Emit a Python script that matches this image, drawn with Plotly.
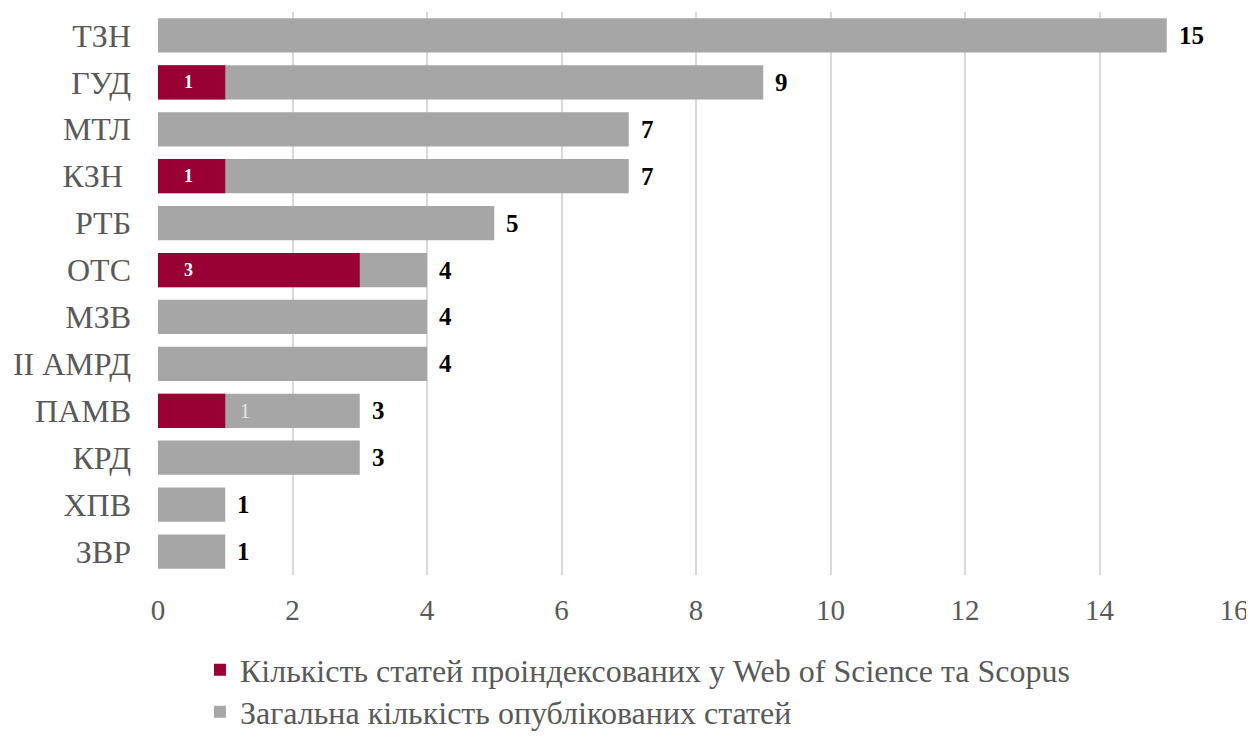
import plotly.graph_objects as go

categories = ["ТЗН", "ГУД", "МТЛ", "КЗН ", "РТБ", "ОТС", "МЗВ", "II АМРД", "ПАМВ", "КРД", "ХПВ", "ЗВР"]
total_articles = [15, 9, 7, 7, 5, 4, 4, 4, 3, 3, 1, 1]
indexed_articles = [0, 1, 0, 1, 0, 3, 0, 0, 1, 0, 0, 0]
x_ticks = [0, 2, 4, 6, 8, 10, 12, 14, 16]

name_indexed = "Кількість статей проіндексованих у Web of Science та Scopus"
name_total = "Загальна кількість опублікованих статей"

GRAY = "#A6A6A6"
RED = "#990033"
FONT = "Liberation Serif, Times New Roman, serif"

fig = go.Figure()
fig.add_trace(go.Bar(
    y=categories, x=total_articles, orientation="h", name=name_total,
    marker=dict(color=GRAY, line=dict(width=0)), legend="legend2", hoverinfo="x+y",
))
fig.add_trace(go.Bar(
    y=categories, x=[v if v > 0 else None for v in indexed_articles], orientation="h",
    name=name_indexed, marker=dict(color=RED, line=dict(width=0)), legend="legend", hoverinfo="x+y",
))

annotations = []
for cat, tot, idx in zip(categories, total_articles, indexed_articles):
    annotations.append(dict(
        x=tot, y=cat, xref="x", yref="y", text=f"<b>{tot}</b>", showarrow=False,
        xanchor="left", xshift=10, font=dict(family=FONT, size=25, color="#000000"),
    ))
    if idx > 0:
        if cat == "ПАМВ":
            annotations.append(dict(
                x=0, y=cat, xref="x", yref="y", text=f"{idx}", showarrow=False,
                xanchor="center", xshift=87, font=dict(family=FONT, size=20, color="#E6E6E6"),
            ))
        else:
            annotations.append(dict(
                x=0, y=cat, xref="x", yref="y", text=f"<b>{idx}</b>", showarrow=False,
                xanchor="center", xshift=30, font=dict(family=FONT, size=18, color="#FFFFFF"),
            ))

legend_style = dict(orientation="v", x=0.039, xanchor="left", yanchor="middle",
                    font=dict(family=FONT, size=32, color="#595959"), bgcolor="rgba(0,0,0,0)")

fig.update_layout(
    width=1254, height=737,
    barmode="overlay", bargap=0.27,
    paper_bgcolor="white", plot_bgcolor="white",
    margin=dict(l=150, r=28, t=4, b=170, autoexpand=False),
    font=dict(family=FONT, color="#595959"),
    xaxis=dict(range=[0, 16], tickvals=x_ticks, showgrid=True, gridcolor="#D9D9D9", gridwidth=1.5,
               zeroline=False, showline=False, ticks="", automargin=False, ticklabelstandoff=15,
               tickfont=dict(family=FONT, size=29, color="#595959")),
    yaxis=dict(autorange="reversed", ticks="", showgrid=False, showline=False, zeroline=False,
               automargin=False, ticklabelstandoff=26,
               tickfont=dict(family=FONT, size=32, color="#595959")),
    legend=dict(y=(567 - 662) / 563, **legend_style),
    legend2=dict(y=(567 - 704) / 563, **legend_style),
    annotations=annotations,
    showlegend=True,
)

fig.write_html("out.html")
